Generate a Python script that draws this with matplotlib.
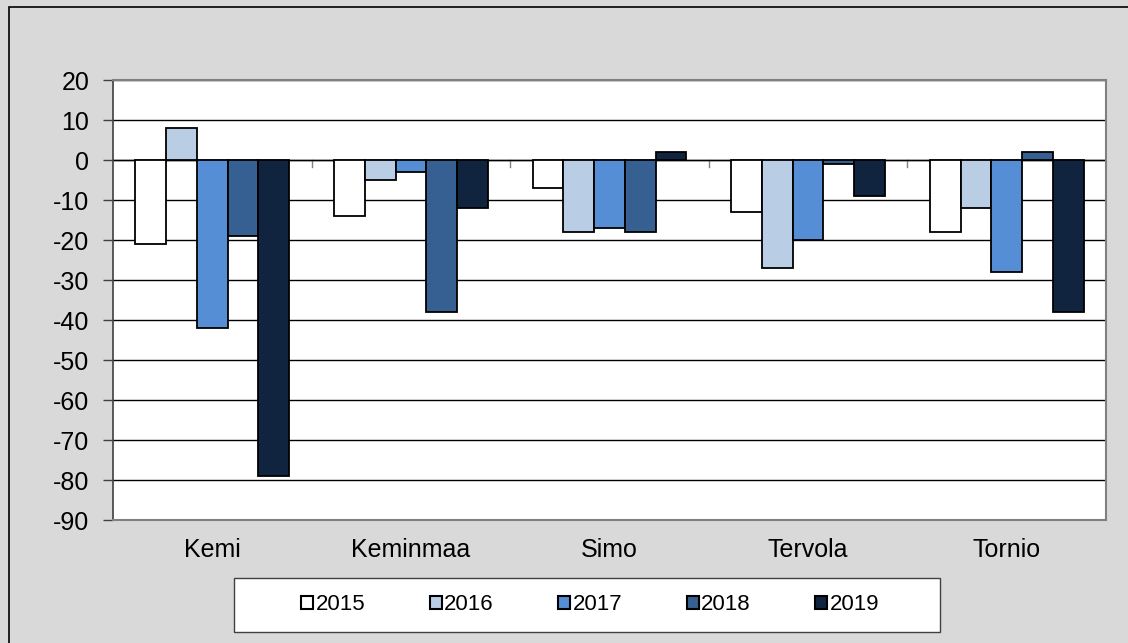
import numpy as np
import matplotlib.pyplot as plt
from matplotlib.patches import Rectangle

plt.rcParams['font.family'] = ['Liberation Sans', 'DejaVu Sans']
plt.rcParams['axes.unicode_minus'] = False

towns = ['Kemi', 'Keminmaa', 'Simo', 'Tervola', 'Tornio']
years = ['2015', '2016', '2017', '2018', '2019']
v2015 = [-21, -14, -7, -13, -18]
v2016 = [8, -5, -18, -27, -12]
v2017 = [-42, -3, -17, -20, -28]
v2018 = [-19, -38, -18, -1, 2]
v2019 = [-79, -12, 2, -9, -38]
series = [v2015, v2016, v2017, v2018, v2019]
colors = ['#FFFFFF', '#B9CDE5', '#558ED5', '#376092', '#10243F']

fig = plt.figure(figsize=(11.28, 6.43), dpi=100, facecolor='#D9D9D9')
# chart area border (left/top visible)
fig.patches.append(Rectangle((9/1128, -0.1), 1.2, 1 - 7/643 + 0.1, transform=fig.transFigure,
                             fill=False, edgecolor='black', linewidth=1.2))
# legend box
fig.patches.append(Rectangle((234/1128, 1 - 632/643), 706/1128, 54/643, transform=fig.transFigure,
                             facecolor='white', edgecolor='#404040', linewidth=1))

ax = fig.add_axes([113/1128, 1 - 520/643, (1106 - 113)/1128, 440/643])
ax.set_facecolor('white')

x = np.arange(len(towns))
w = 0.155
for i, (vals, c) in enumerate(zip(series, colors)):
    ax.bar(x + (i - 2) * w, vals, w, color=c, edgecolor='black', linewidth=1.3,
           label=years[i], zorder=3)

ax.set_xlim(-0.5, 4.5)
ax.set_ylim(-90, 20)
ax.set_yticks(range(-90, 21, 10))
ax.yaxis.grid(True, color='black', linewidth=1)
ax.set_axisbelow(True)
ax.tick_params(axis='y', labelsize=18, length=7, width=1, color='#404040', pad=10)

# category labels low, tick marks on zero line
ax.set_xticks(x)
ax.set_xticklabels(towns, fontsize=18)
ax.tick_params(axis='x', length=0, pad=13)
for b in np.arange(0.5, 4.5, 1):
    ax.plot([b, b], [0, -1.7], color='#808080', linewidth=1, zorder=2)

for s in ['top', 'right', 'bottom']:
    ax.spines[s].set_color('#808080')
    ax.spines[s].set_linewidth(1.5)
ax.spines['left'].set_color('#404040')
ax.spines['left'].set_linewidth(1.2)
ax.axhline(0, color='black', linewidth=1, zorder=2)

leg = fig.legend(loc='center', bbox_to_anchor=(590/1128, 1 - 605/643), ncol=5,
                 fontsize=16, handlelength=0.55, handleheight=0.55, handletextpad=0.1,
                 columnspacing=2.9, frameon=False, borderpad=0, borderaxespad=0)
for h in leg.legend_handles:
    h.set_linewidth(1.5)

fig.savefig('out.png', dpi=100, facecolor=fig.get_facecolor())
